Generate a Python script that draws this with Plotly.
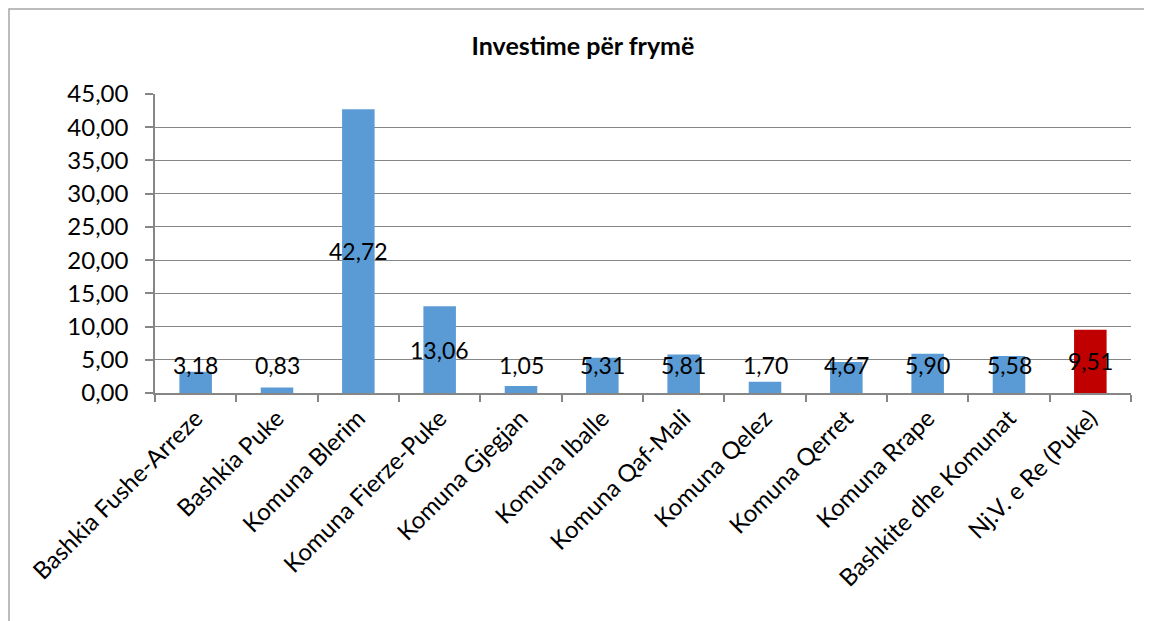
import plotly.graph_objects as go

categories = ["Bashkia Fushe-Arreze", "Bashkia Puke", "Komuna Blerim", "Komuna Fierze-Puke",
              "Komuna Gjegjan", "Komuna Iballe", "Komuna Qaf-Mali", "Komuna Qelez",
              "Komuna Qerret", "Komuna Rrape", "Bashkite dhe Komunat", "Nj.V. e Re (Puke)"]
values = [3.18, 0.83, 42.72, 13.06, 1.05, 5.31, 5.81, 1.70, 4.67, 5.90, 5.58, 9.51]
colors = ["#5B9BD5"] * 11 + ["#C00000"]
title = "Investime për frymë"

W, H = 1152, 621
ml, mr, mt, mb = 147, 29, 86, 236
pw, ph = W - ml - mr, H - mt - mb
ymax = 45

fig = go.Figure(go.Bar(x=categories, y=values, marker=dict(color=colors, line=dict(width=0)),
                       width=0.4, hoverinfo="skip"))

FONT = "Lato, Carlito, Calibri, sans-serif"
FS = 23
for c, v in zip(categories, values):
    half_px = v / 2 / ymax * ph
    txt = f"{v:.2f}".replace(".", ",")
    if half_px >= 27:
        fig.add_annotation(x=c, y=v / 2, text=txt, showarrow=False, yanchor="middle",
                           font=dict(family=FONT, size=FS, color="#000000"))
    else:
        fig.add_annotation(x=c, y=0, text=txt, showarrow=False, yanchor="bottom", yshift=12,
                           font=dict(family=FONT, size=FS, color="#000000"))

# outer chart border
fig.add_shape(type="rect", xref="paper", yref="paper",
              x0=(1 - ml) / pw, x1=(W + 20 - ml) / pw,
              y0=-(H + 20 - mt - ph) / ph, y1=1 + (mt - 1) / ph,
              line=dict(color="#A6A6A6", width=1.5), fillcolor="rgba(0,0,0,0)", layer="below")

fig.update_layout(
    width=W, height=H,
    margin=dict(l=ml, r=mr, t=mt, b=mb, autoexpand=False),
    paper_bgcolor="white", plot_bgcolor="white",
    separators=", ",
    showlegend=False,
    font=dict(family=FONT, size=FS, color="#000000"),
    title=dict(text="<b>" + title + "</b>", x=575 / W, xanchor="center", xref="container",
               y=1 - 38 / H, yanchor="middle", yref="container",
               font=dict(family=FONT, size=25, color="#000000")),
    bargap=0.6,
)
fig.update_xaxes(type="category", showline=True, linecolor="#868686", linewidth=1.5,
                 ticks="outside", tickson="boundaries", ticklen=7, tickcolor="#868686",
                 tickwidth=1.5, tickangle=-45, showgrid=False, automargin=False,
                 tickfont=dict(family=FONT, size=24, color="#000000"))
fig.update_yaxes(range=[0, ymax], dtick=5, tickformat=".2f", showline=True,
                 linecolor="#868686", linewidth=1.5, ticks="outside", ticklen=8,
                 tickcolor="#868686", tickwidth=1.5, showgrid=True, gridcolor="#868686",
                 gridwidth=1, zeroline=False, automargin=False, ticklabelstandoff=12,
                 tickfont=dict(family=FONT, size=FS + 1, color="#000000"))

fig.write_html("out.html")
